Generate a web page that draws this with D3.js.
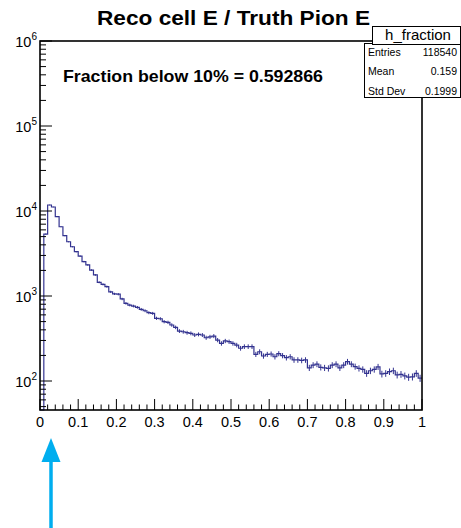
<!DOCTYPE html>
<html><head><meta charset="utf-8">
<script src="https://cdn.jsdelivr.net/npm/d3@7"></script>
<style>body{margin:0;background:#fff}svg{display:block;font-family:"Liberation Sans",Arial,sans-serif}</style>
</head><body><svg id="c" width="461" height="528"></svg>
<script>
const binEdgesMin = 0, binEdgesMax = 1, nBins = 100;
const counts = [0,5360,11770,11150,8570,6530,5120,4350,3800,3320,
2950,2540,2320,2020,1770,1450,1370,1290,1120,1060,
1050,923,820,783,762,736,697,671,636,625,
547,540,499,490,456,428,387,380,370,364,
348,354,348,323,331,338,303,277,296,290,
277,265,243,254,254,254,206,221,197,206,
208,193,210,199,188,193,177,177,175,177,
143,154,158,145,143,141,154,158,143,154,
169,158,148,141,137,123,132,137,147,121,
123,129,132,118,120,115,111,112,123,108];
const xTicks = [0,0.1,0.2,0.3,0.4,0.5,0.6,0.7,0.8,0.9,1];
const xTickLabels = ["0","0.1","0.2","0.3","0.4","0.5","0.6","0.7","0.8","0.9","1"];
const yDecades = [2,3,4,5,6];
const statsNames = ["Entries","Mean","Std Dev"];
const statsValues = ["118540","0.159","0.1999"];

const svg = d3.select("#c");
const L=40,R=422,T=41,B=410;
const x = d3.scaleLinear().domain([binEdgesMin,binEdgesMax]).range([L,R]);
const y = d3.scaleLog().domain([45.6,1e6]).range([B,T]).clamp(true);
const col = "#333390";
const bw = (binEdgesMax-binEdgesMin)/nBins;

// title
svg.append("text").attr("x",97).attr("y",25)
  .attr("font-size",19.5).attr("font-weight","bold").attr("textLength",273).attr("lengthAdjust","spacingAndGlyphs")
  .text("Reco cell E / Truth Pion E");

// histogram step
const g = svg.append("g");
let pts = [];
counts.forEach((c,i)=>{const x0=binEdgesMin+i*bw; pts.push([x(x0),y(Math.max(c,1))]); pts.push([x(x0+bw),y(Math.max(c,1))]);});
g.append("path").attr("d",d3.line()(pts)).attr("fill","none").attr("stroke",col).attr("stroke-width",1.2);
// error bars
counts.forEach((c,i)=>{ if(c<=0) return; const e=Math.sqrt(c); const xc=x(binEdgesMin+(i+0.5)*bw);
  g.append("line").attr("x1",xc).attr("x2",xc).attr("y1",y(c+e)).attr("y2",y(Math.max(c-e,1)))
   .attr("stroke",col).attr("stroke-width",1);});

// frame
svg.append("rect").attr("x",L).attr("y",T).attr("width",R-L).attr("height",B-T)
  .attr("fill","none").attr("stroke","#000").attr("stroke-width",1.6);

// x ticks
for(let k=0;k<=50;k++){const v=k*0.02; const major=(k%5===0);
  svg.append("line").attr("x1",x(v)).attr("x2",x(v)).attr("y1",B).attr("y2",B-(major?11:5.5)).attr("stroke","#000").attr("stroke-width",1);}
xTicks.forEach((v,i)=>svg.append("text").attr("x",x(v)).attr("y",426.5).attr("text-anchor","middle")
  .attr("font-size",14.5).text(xTickLabels[i]));

// y ticks
for(let d=1; d<=6; d++){ for(let m=1;m<=9;m++){ const v=m*Math.pow(10,d); if(v<45.6||v>1e6) continue;
  svg.append("line").attr("x1",L).attr("x2",L+(m===1?12:6)).attr("y1",y(v)).attr("y2",y(v)).attr("stroke","#000").attr("stroke-width",1);}}
yDecades.forEach(d=>{const t=svg.append("text").attr("x",37).attr("y",y(Math.pow(10,d))+5.5).attr("text-anchor","end").attr("font-size",14.5);
  t.append("tspan").text("10"); t.append("tspan").attr("dy",-6.5).attr("font-size",10).text(d);});

// annotation
svg.append("text").attr("x",63).attr("y",81.5).attr("font-size",16.5).attr("font-weight","bold")
  .attr("textLength",260).attr("lengthAdjust","spacingAndGlyphs").text("Fraction below 10% = 0.592866");

// stats box
svg.append("rect").attr("x",364.5).attr("y",43.5).attr("width",96).attr("height",54).attr("fill","#fff").attr("stroke","#000").attr("stroke-width",1);
svg.append("rect").attr("x",372.5).attr("y",26.5).attr("width",88).attr("height",18).attr("fill","#fff").attr("stroke","#000").attr("stroke-width",1);
svg.append("text").attr("x",418).attr("y",39.5).attr("text-anchor","middle").attr("font-size",15).text("h_fraction");
statsNames.forEach((n,i)=>{const yy=55.5+i*19.5;
  svg.append("text").attr("x",368).attr("y",yy).attr("font-size",10.5).text(n);
  svg.append("text").attr("x",457).attr("y",yy).attr("text-anchor","end").attr("font-size",10.5).text(statsValues[i]);});

// arrow
const ac="#00aeef";
svg.append("line").attr("x1",51).attr("x2",51).attr("y1",458).attr("y2",528).attr("stroke",ac).attr("stroke-width",3.5);
svg.append("path").attr("d","M51,438 L60.5,462 L41.5,462 Z").attr("fill",ac);
</script></body></html>
